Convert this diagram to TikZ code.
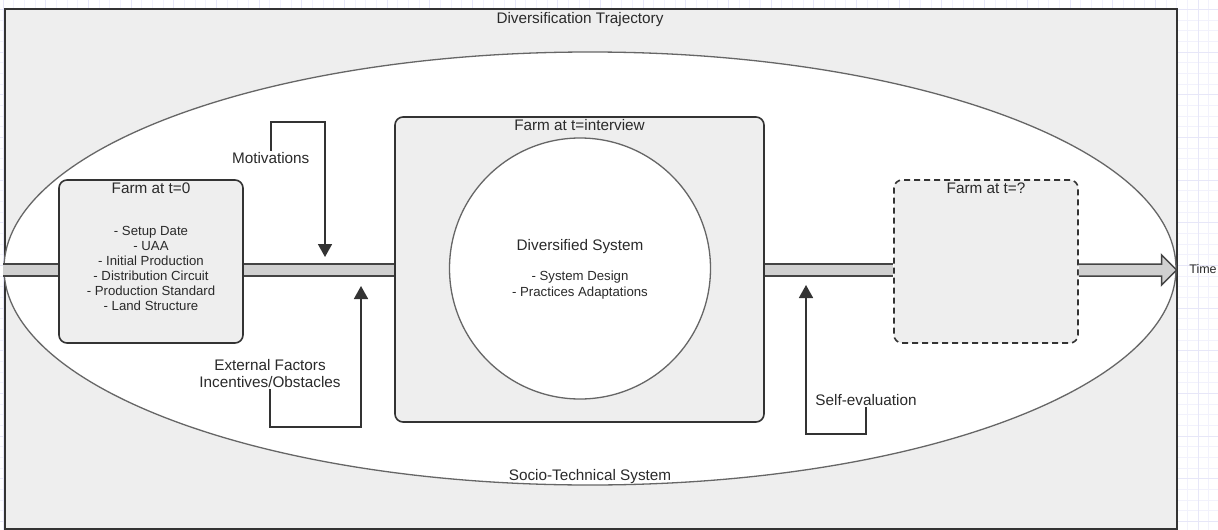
\documentclass[tikz,border=0pt]{standalone}
\usepackage{fontspec}
\setmainfont{Liberation Sans}
\usetikzlibrary{shapes.geometric,arrows.meta,calc}
\definecolor{boxfill}{HTML}{EEEEEE}
\definecolor{linec}{HTML}{333333}
\definecolor{ellc}{HTML}{666666}
\definecolor{bandfill}{HTML}{D0D0D0}
\definecolor{bandline}{HTML}{444444}
\definecolor{txtc}{HTML}{2A2A2A}
\definecolor{gridminor}{HTML}{F2F2FC}
\definecolor{gridmajor}{HTML}{E7E7F8}
\newcommand\bandseg[2]{%
  \fill[bandfill] ($(#1)+(0,-6)$) rectangle ($(#2)+(0,6)$);
  \draw[bandedge] ($(#1)+(0,-6)$) -- ($(#2)+(0,-6)$) ($(#1)+(0,6)$) -- ($(#2)+(0,6)$);}
\begin{document}
\begin{tikzpicture}[x=1pt,y=-1pt,
  lbl/.style={text=txtc, inner sep=1.5pt, font=\fontsize{15.3}{17}\selectfont, align=center},
  listtxt/.style={text=txtc, inner sep=0pt, font=\fontsize{13.2}{15}\selectfont, align=center},
  timetxt/.style={text=txtc, inner sep=0pt, font=\fontsize{12.5}{15}\selectfont},
  farmbox/.style={rectangle, rounded corners=8pt, draw=linec, line width=1.6pt, fill=boxfill, inner sep=0pt},
  bandedge/.style={draw=bandline, line width=1.5pt},
  conn/.style={draw=linec, line width=1.7pt, -{Triangle[width=14pt,length=13pt]}}]
\useasboundingbox (0,0) rectangle (1218,530);
\fill[white] (0,0) rectangle (1218,530);
% background grid
\foreach \i in {-2,...,113} \draw[gridminor, line width=0.9pt] ({1198-10.67*\i},0) -- ({1198-10.67*\i},530);
\foreach \i in {-5,...,46} \draw[gridminor, line width=0.9pt] (0,{52+10.67*\i}) -- (1218,{52+10.67*\i});
\foreach \i in {0,...,28} \draw[gridmajor, line width=0.9pt] ({1198-42.68*\i},0) -- ({1198-42.68*\i},530);
\foreach \i in {-2,...,12} \draw[gridmajor, line width=0.9pt] (0,{52+42.68*\i}) -- (1218,{52+42.68*\i});

% outer frame and ellipse
\node[rectangle, draw=linec, line width=1.8pt, fill=boxfill, minimum width=1172pt, minimum height=520pt, inner sep=0pt, anchor=north west] (traj) at (4,8) {};
\node[ellipse, draw=ellc, line width=1.3pt, fill=white, minimum width=1172pt, minimum height=433pt, inner sep=0pt] (stsys) at (590,268.5) {};
\node[lbl] (trajlbl) at (580,20) {Diversification Trajectory};
\node[lbl] (stlbl) at (590,477) {Socio-Technical System};

% farm boxes
\node[farmbox, minimum width=184pt, minimum height=163pt] (farm0) at (151,261.5) {};
\node[lbl] (farm0t) at ($(farm0.north)+(0,9)$) {Farm at t=0};
\node[listtxt] (farm0l) at (151,268.5) {- Setup Date\\- UAA\\- Initial Production\\- Distribution Circuit\\- Production Standard\\- Land Structure};

\node[farmbox, minimum width=369pt, minimum height=305pt] (farmi) at (579.5,269.5) {};
\node[lbl] (farmit) at ($(farmi.north)+(0,9)$) {Farm at t=interview};
\node[circle, draw=ellc, line width=1.3pt, fill=white, minimum size=261pt, inner sep=0pt] (divsys) at (580,268.5) {};
\node[lbl] (divt) at (580,247) {Diversified System};
\node[listtxt, font=\fontsize{13.2}{15.7}\selectfont] (divl) at (580,285) {- System Design\\- Practices Adaptations};

\node[farmbox, dash pattern=on 6pt off 4pt, minimum width=184pt, minimum height=163pt] (farmq) at (986,261.5) {};
\node[lbl] (farmqt) at ($(farmq.north)+(0,9)$) {Farm at t=?};

% time axis
\coordinate (axis) at (0,270);
\bandseg{stsys.west |- axis}{farm0.west |- axis}
\bandseg{farm0.east |- axis}{farmi.west |- axis}
\bandseg{farmi.east |- axis}{farmq.west |- axis}
\coordinate (ta) at (farmq.east |- axis);
\coordinate (tt) at (stsys.east |- axis);
\draw[bandedge, fill=bandfill, line join=miter] ($(ta)+(0,-6)$) -- ($(tt)+(-15,-6)$) -- ($(tt)+(-15,-15)$) -- (tt) -- ($(tt)+(-15,15)$) -- ($(tt)+(-15,6)$) -- ($(ta)+(0,6)$);
\node[timetxt] (timelbl) at (1203,269) {Time};

% motivations
\node[lbl] (motiv) at (270.7,158) {Motivations};
\coordinate (mcorner) at (325,121.7);
\coordinate (mtip) at (325,257);
\draw[conn] (motiv.north) |- (mcorner) -- (mtip);

% external factors
\node[lbl] (ext) at (270,373.5) {External Factors\\Incentives/Obstacles};
\coordinate (ecorner) at (361,427);
\coordinate (etip) at (361,286);
\draw[conn] (ext.south) |- (ecorner) -- (etip);

% self-evaluation
\node[lbl] (selfev) at (866,400) {Self-evaluation};
\coordinate (scorner) at (806,434);
\coordinate (stip) at (806,285);
\draw[conn] (selfev.south) |- (scorner) -- (stip);
\end{tikzpicture}
\end{document}
